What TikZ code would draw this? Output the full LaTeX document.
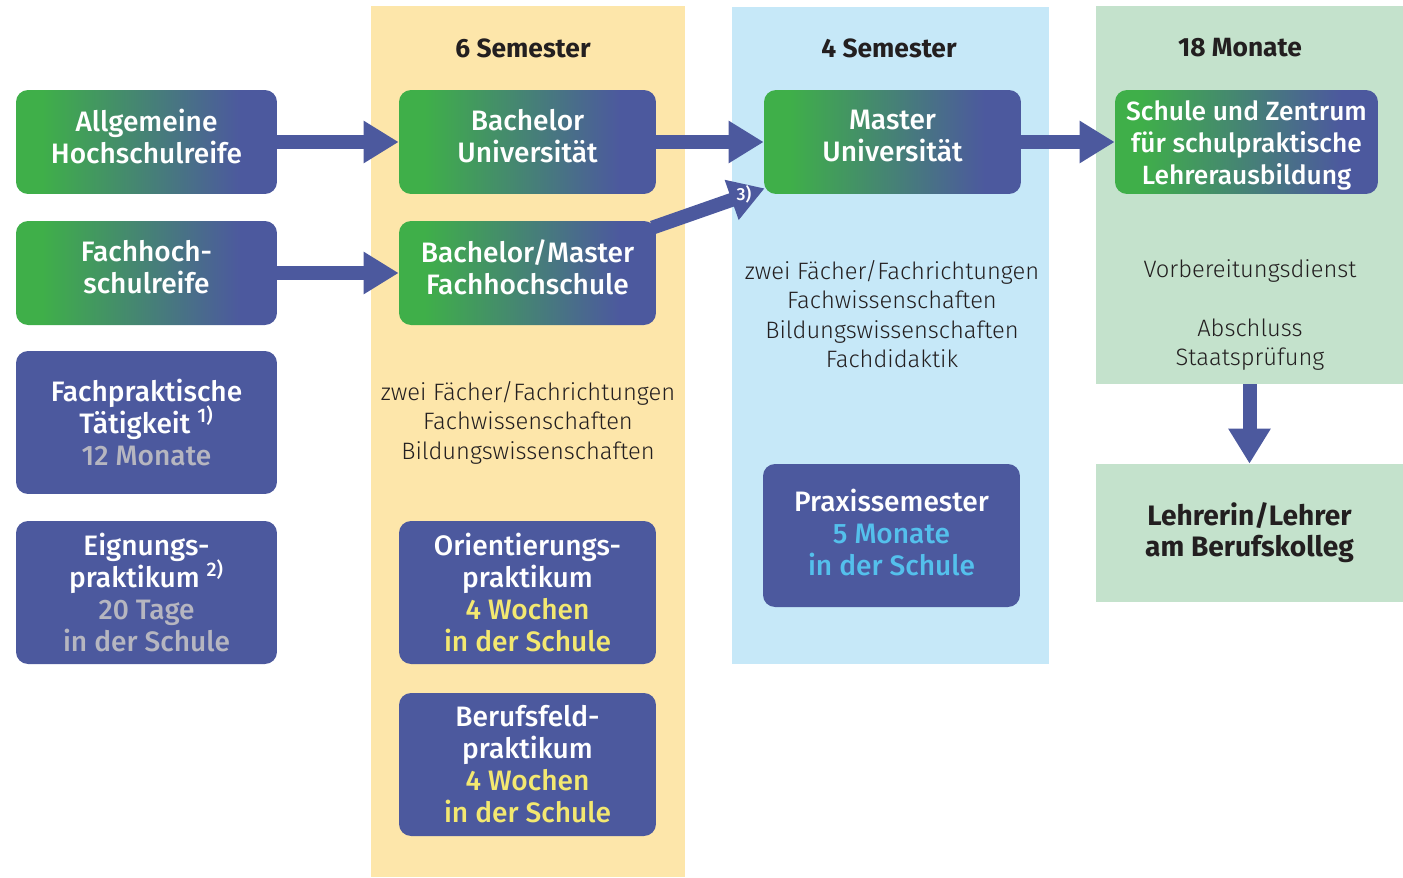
\documentclass[tikz,border=0pt]{standalone}
\usepackage{fontspec}
\setmainfont{Fira Sans}
\newfontfamily\boxfont{Fira Sans Medium}
\newfontfamily\bookfont{Fira Sans Light}
\usetikzlibrary{arrows.meta,positioning,calc}

\definecolor{boxblue}{RGB}{76,89,158}
\definecolor{boxgreen}{RGB}{63,175,73}
\definecolor{semyellow}{RGB}{253,230,170}
\definecolor{semblue}{RGB}{198,232,248}
\definecolor{semgreen}{RGB}{196,226,204}
\definecolor{ink}{RGB}{35,31,32}
\definecolor{greytext}{RGB}{182,182,192}
\definecolor{yellowtext}{RGB}{243,232,112}
\definecolor{cyantext}{RGB}{84,192,236}

\pgfdeclarehorizontalshading{greenblue}{100bp}{color(0bp)=(boxgreen); color(30bp)=(boxgreen); color(68bp)=(boxblue); color(100bp)=(boxblue)}

\pgfdeclarelayer{columns}
\pgfdeclarelayer{behind}
\pgfsetlayers{columns,behind,main}

% extra room below or above the lines of a box, to move its text up or down
\newcommand{\padbelow}[1]{\rule[-#1]{0pt}{#1}}
\newcommand{\padabove}[1]{\rule{0pt}{#1}}
\newcommand{\fnmark}[1]{\smash{\textsuperscript{#1}}}

\tikzset{
  colbg/.style={rectangle, inner sep=0pt},
  gbox/.style={rectangle, rounded corners=0.24cm, shading=greenblue, text=white,
    align=center, inner sep=0pt, minimum width=5.22cm, minimum height=2.08cm,
    font=\boxfont\fontsize{16}{18.2}\selectfont},
  bbox/.style={rectangle, rounded corners=0.24cm, fill=boxblue, text=white,
    align=center, inner sep=0pt, minimum width=5.22cm, minimum height=2.86cm,
    font=\boxfont\fontsize{16}{18.2}\selectfont},
  head/.style={text=ink, font=\bfseries\fontsize{15}{18}\selectfont},
  body/.style={text=ink, align=center, font=\bookfont\fontsize{13.5}{16.8}\selectfont},
  flow/.style={draw=boxblue, line width=0.28cm, -{Triangle[length=0.7cm,width=0.8cm]}},
}

\begin{document}
\begin{tikzpicture}[x=0.02cm,y=-0.02cm]
  \useasboundingbox (0,0) rectangle (1403,877);

  % columns
  \begin{pgfonlayer}{columns}
    \node[colbg, fill=semyellow, minimum width=6.28cm, minimum height=17.42cm] (col6) at (528,441.5) {};
    \node[colbg, fill=semblue, minimum width=6.34cm, minimum height=13.14cm] (col4) at (890.5,335.5) {};
    \node[colbg, fill=semgreen, minimum width=6.14cm, minimum height=7.56cm] (col18) at (1249.5,195) {};
    \node[colbg, fill=semgreen, minimum width=6.14cm, minimum height=2.76cm, align=center,
      text=ink, font=\bfseries\fontsize{16}{17.6}\selectfont] (lehrer) at (1249.5,533)
      {Lehrerin/Lehrer\\am Berufskolleg};
  \end{pgfonlayer}

  \node[head] (h6) at (523,48) {6 Semester};
  \node[head] (h4) at (889,48) {4 Semester};
  \node[head] (h18) at (1240,48) {18 Monate};

  % left column
  \node[gbox] (allg) at (146.5,142) {Allgemeine\\Hochschulreife\padbelow{0.24cm}};
  \node[gbox] (fhr) at (146.5,273) {Fachhoch-\\schulreife\padbelow{0.24cm}};
  \node[bbox] (fpt) at (146.5,422.5)
    {Fachpraktische\\Tätigkeit \fnmark{1)}\\\textcolor{greytext}{12 Monate}};
  \node[bbox] (eig) at (146.5,592.5)
    {Eignungs-\\praktikum \fnmark{2)}\\\textcolor{greytext}{20 Tage}\\\textcolor{greytext}{in der Schule}};

  % bachelor
  \node[gbox, minimum width=5.14cm] (bau) at (527.5,142) {Bachelor\\Universität\padbelow{0.24cm}};
  \node[gbox, minimum width=5.14cm] (bfh) at (527.5,273) {Bachelor/Master\\Fachhochschule\padbelow{0.24cm}};
  \node[body] (inh6) at (528,422.5)
    {zwei Fächer/Fachrichtungen\\Fachwissenschaften\\Bildungswissenschaften};
  \node[bbox, minimum width=5.14cm] (ori) at (527.5,592.5)
    {Orientierungs-\\praktikum\\\textcolor{yellowtext}{4 Wochen}\\\textcolor{yellowtext}{in der Schule}};
  \node[bbox, minimum width=5.14cm] (bfp) at (527.5,764.5)
    {Berufsfeld-\\praktikum\\\textcolor{yellowtext}{4 Wochen}\\\textcolor{yellowtext}{in der Schule}};

  % master
  \node[gbox, minimum width=5.14cm] (mau) at (892.5,142) {Master\\Universität\padbelow{0.24cm}};
  \node[body] (inh4) at (892,314)
    {zwei Fächer/Fachrichtungen\\Fachwissenschaften\\Bildungswissenschaften\\Fachdidaktik};
  \node[bbox, minimum width=5.14cm] (prx) at (891.5,535.5)
    {Praxissemester\\\textcolor{cyantext}{5 Monate}\\\textcolor{cyantext}{in der Schule}\padbelow{0.14cm}};

  % vorbereitungsdienst
  \node[gbox, minimum width=5.26cm, font=\boxfont\fontsize{15}{18.2}\selectfont] (zfs) at (1246.5,142)
    {\padabove{0.52cm}Schule und Zentrum\\für schulpraktische\\Lehrerausbildung};
  \node[body] (vd) at (1250,271) {Vorbereitungsdienst};
  \node[body] (abs) at (1250,344.5) {Abschluss\\Staatsprüfung};

  % arrows
  \draw[flow] (allg) -- (bau);
  \draw[flow] (fhr) -- (bfh);
  \draw[flow] (bau) -- (mau);
  \draw[flow] (mau) -- (zfs);
  \begin{pgfonlayer}{behind}
    \draw[flow] ($(bfh.north east)+(-4,7)$) -- ($(mau.south west)+(1,-6)$);
  \end{pgfonlayer}
  \node[text=white, font=\boxfont\fontsize{10}{12}\selectfont] (fn3) at (744,194) {3)};
  \draw[flow] (col18.south) -- (lehrer.north);
\end{tikzpicture}
\end{document}
